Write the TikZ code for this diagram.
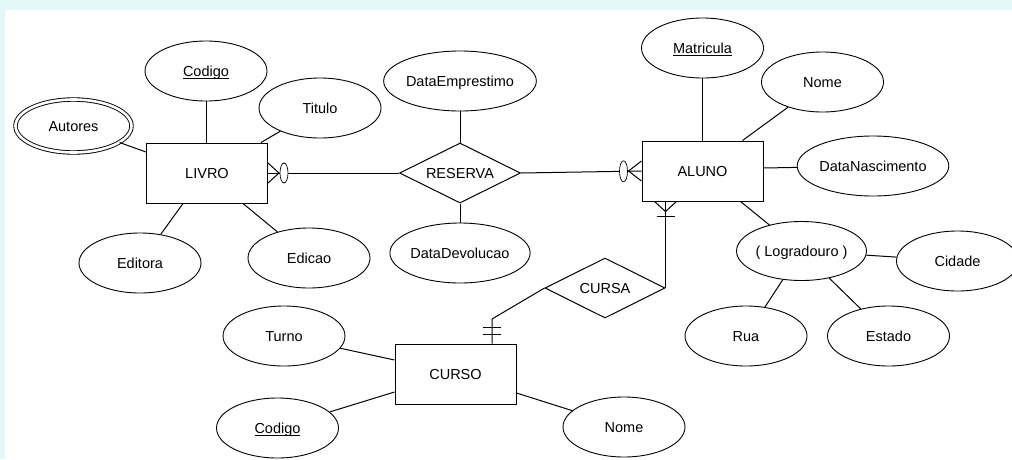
\documentclass[tikz,border=0pt]{standalone}
\usepackage{fontspec}
\setmainfont{Liberation Sans}
\usetikzlibrary{shapes.geometric}
\definecolor{pagebg}{HTML}{E3F8F8}
% underlined key attribute
\newcommand\keyattr[1]{\setbox0=\hbox{#1}\leavevmode\rlap{\rule[-2.4pt]{\wd0}{0.9pt}}\box0}
\begin{document}
\begin{tikzpicture}[x=1pt,y=-1pt,
  every node/.style={font=\fontsize{14.5}{17}\selectfont, text height=10.4pt, text depth=0pt, inner sep=0pt},
  attr/.style={ellipse, draw, fill=white, line width=0.9pt, minimum width=122pt, minimum height=60pt},
  multiattr/.style={ellipse, draw, fill=white, line width=0.9pt, double, double distance=2.6pt, minimum width=116pt, minimum height=53pt},
  entity/.style={rectangle, draw, fill=white, line width=1pt, minimum width=121pt, minimum height=60pt},
  relation/.style={diamond, aspect=2, draw, fill=white, line width=1pt, minimum width=121pt, minimum height=60pt},
  link/.style={line width=1pt},
  zerocirc/.style={ellipse, draw, fill=white, line width=0.7pt, minimum width=8pt, minimum height=20pt}]
\useasboundingbox (0,0) rectangle (1012,459);
\clip (0,0) rectangle (1012,459);
\fill[pagebg] (0,0) rectangle (1012,459);
\fill[white] (5,10) rectangle (1012,459);

% LIVRO and its attributes
\node[entity] (livro) at (207,173) {LIVRO};
\node[attr] (cod1) at (206,71) {\keyattr{Codigo}};
\node[attr] (titulo) at (320,108) {Titulo};
\node[multiattr] (autores) at (73.5,126) {Autores};
\node[attr] (editora) at (140,263) {Editora};
\node[attr] (edicao) at (309,258) {Edicao};

% RESERVA relationship
\node[relation] (reserva) at (460,173) {RESERVA};
\node[attr] (dataemp) at (460,81) {DataEmprestimo};
\node[attr] (datadev) at (460,253) {DataDevolucao};

% ALUNO and its attributes
\node[entity] (aluno) at (702.5,171) {ALUNO};
\node[attr] (matricula) at (702.5,48) {\keyattr{Matricula}};
\node[attr] (nome2) at (822.5,82) {Nome};
\node[attr] (datanasc) at (873,166) {DataNascimento};
\node[attr, minimum height=59pt] (logr) at (801.5,251) {( Logradouro )};
\node[attr] (cidade) at (957.5,261) {Cidade};
\node[attr] (rua) at (746,336) {Rua};
\node[attr] (estado) at (888.5,336) {Estado};

% CURSA relationship and CURSO
\node[relation, minimum width=120pt] (cursa) at (605,288) {CURSA};
\node[entity] (curso) at (455.5,374) {CURSO};
\node[attr] (turno) at (284,336) {Turno};
\node[attr] (cod2) at (277.5,428) {\keyattr{Codigo}};
\node[attr] (nome3) at (624,427) {Nome};

% attribute links
\draw[link] (cod1) -- (livro.north -| cod1);
\draw[link] (titulo) -- ([xshift=54pt]livro.north);
\draw[link] (autores) -- ([yshift=21pt]livro.west);
\draw[link] (editora) -- ([xshift=-24pt]livro.south);
\draw[link] (edicao) -- ([xshift=36pt]livro.south);
\draw[link] (dataemp) -- (reserva.north);
\draw[link] (datadev) -- (reserva.south);
\draw[link] (matricula) -- (aluno.north);
\draw[link] (nome2) -- ([xshift=40pt]aluno.north);
\draw[link] ([yshift=3pt]aluno.east) -- (datanasc);
\draw[link] (logr) -- ([xshift=38pt]aluno.south);
\draw[link] (logr) -- (cidade);
\draw[link] (rua) -- (logr);
\draw[link] (estado) -- (logr);
\draw[link] (turno) -- ([yshift=14pt]curso.west);
\draw[link] (cod2) -- ([yshift=-18pt]curso.west);
\draw[link] (nome3) -- ([yshift=-19pt]curso.east);

% LIVRO -- RESERVA (zero or many on LIVRO)
\draw[link] (livro.east) -- (reserva.west);
\draw[link] ([yshift=10pt]livro.east) -- ([xshift=11pt]livro.east) -- ([yshift=-10pt]livro.east);
\node[zerocirc] (z1) at ([xshift=16pt]livro.east) {};

% RESERVA -- ALUNO (zero or many on ALUNO)
\draw[link] (reserva.east) -- (aluno.west);
\draw[link] ([yshift=10pt]aluno.west) -- ([xshift=-13pt]aluno.west) -- ([yshift=-10pt]aluno.west);
\node[zerocirc, minimum height=21pt] (z2) at ([xshift=-18pt,yshift=-0.3pt]aluno.west) {};

% ALUNO -- CURSA (one or many on ALUNO)
\coordinate (af) at (cursa.east |- aluno.south);
\draw[link] (cursa.east) -- (af);
\draw[link] ([xshift=-11pt]af) -- ([yshift=-10pt]af) -- ([xshift=11pt]af);
\draw[link] ([xshift=-9pt,yshift=-15pt]af) -- ([xshift=9pt,yshift=-15pt]af);

% CURSA -- CURSO (exactly one on CURSO)
\coordinate (bend) at (492,319);
\draw[link] (cursa.west) -- (bend) -- (bend |- curso.north);
\draw[link] ([xshift=-9pt,yshift=-8pt]bend) -- ([xshift=9pt,yshift=-8pt]bend);
\draw[link] ([xshift=-9pt,yshift=-15pt]bend) -- ([xshift=9pt,yshift=-15pt]bend);
\end{tikzpicture}
\end{document}
